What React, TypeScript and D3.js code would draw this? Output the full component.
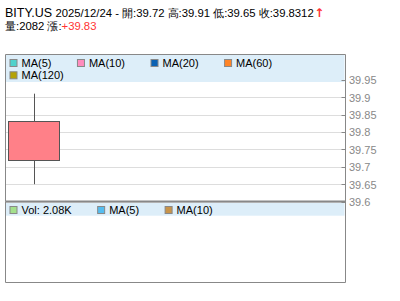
import React, { useEffect, useRef } from "react";
import * as d3 from "d3";

const symbol = "BITY.US";
const dates = ["2025/12/24"];
const opens = [39.72];
const highs = [39.91];
const lows = [39.65];
const closes = [39.8312];
const volumes = [2082];
const changeLabel = "+39.83";
const yTicks = [39.6, 39.65, 39.7, 39.75, 39.8, 39.85, 39.9, 39.95];
const mainLegend = ["MA(5)", "MA(10)", "MA(20)", "MA(60)", "MA(120)"];
const mainLegendColors = ["#4fd2cc", "#ff8cbe", "#0a62b4", "#ff8426", "#b4a204"];
const volLegend = ["Vol: 2.08K", "MA(5)", "MA(10)"];
const volLegendColors = ["#a3e08c", "#55bdf0", "#c8944a"];

const FONT = "'Liberation Sans', Arial, sans-serif";

export default function App() {
  const ref = useRef<SVGSVGElement | null>(null);

  useEffect(() => {
    const svg = d3.select(ref.current);
    svg.selectAll("*").remove();
    const left = 5.5, right = 345.5, top = 54.5, mainBottom = 201.5, volBottom = 282.5;

    const y = d3.scaleLinear().domain([39.6, 40.024]).range([201.6, 54]);
    const x = d3.scaleBand<string>()
      .domain(dates)
      .range([left, left + (right - left) / 6])
      .paddingInner(0.1)
      .paddingOuter(0.05);

    // title
    const t1 = svg.append("text").attr("x", 5).attr("y", 17).attr("font-family", FONT).attr("fill", "#000");
    t1.append("tspan").attr("font-size", 12.5).text(symbol + " ");
    t1.append("tspan").attr("font-size", 11.3)
      .text(`${dates[0]} - 開:${opens[0]} 高:${highs[0]} 低:${lows[0]} 收:${closes[0]}`);
    t1.append("tspan").attr("font-family", "'DejaVu Sans', sans-serif").attr("font-size", 12)
      .attr("font-weight", "bold").attr("fill", "#ff3333").attr("dx", 0.5).text("↑");
    const t2 = svg.append("text").attr("x", 5).attr("y", 30).attr("font-family", FONT).attr("font-size", 11.3).attr("fill", "#000");
    t2.append("tspan").text(`量:${volumes[0]} 漲:`);
    t2.append("tspan").attr("fill", "#ff3333").text(changeLabel);

    // gridlines
    svg.append("g").selectAll("line").data(yTicks).join("line")
      .attr("x1", left).attr("x2", right)
      .attr("y1", d => Math.round(y(d)) + 0.5).attr("y2", d => Math.round(y(d)) + 0.5)
      .attr("stroke", "#dddddd");

    // legend backgrounds
    svg.append("rect").attr("x", left + 0.5).attr("y", top + 0.5).attr("width", right - left - 1.5).attr("height", 27)
      .attr("fill", "#ddeef9");
    svg.append("rect").attr("x", left + 0.5).attr("y", 203).attr("width", right - left - 1.5).attr("height", 12.7)
      .attr("fill", "#ddeef9");

    const drawLegend = (items: string[], colors: string[], sqTop: number, baseline: number) => {
      let cx = 9.5, row = 0;
      const rowH = 12.3;
      items.forEach((label, i) => {
        const tmp = svg.append("text").attr("font-family", FONT).attr("font-size", 11).text(label);
        const w = (tmp.node() as SVGTextElement).getComputedTextLength();
        tmp.remove();
        if (cx + 12 + w > right - 2) { row++; cx = 9.5; }
        const oy = row * rowH;
        svg.append("rect").attr("x", cx + 0.5).attr("y", sqTop + oy + 0.5).attr("width", 7).attr("height", 7)
          .attr("fill", colors[i]).attr("stroke", "#888");
        svg.append("text").attr("x", cx + 12).attr("y", baseline + oy)
          .attr("font-family", FONT).attr("font-size", 11).attr("fill", "#000").text(label);
        cx = cx + 12 + w + 25.5;
      });
    };
    drawLegend(mainLegend, mainLegendColors, 59, 67);
    drawLegend(volLegend, volLegendColors, 206, 214);

    // ticks + labels
    svg.append("g").selectAll("line").data(yTicks).join("line")
      .attr("x1", right - 4).attr("x2", right)
      .attr("y1", d => Math.round(y(d)) + 0.5).attr("y2", d => Math.round(y(d)) + 0.5)
      .attr("stroke", "#888");
    svg.append("g").selectAll("text").data(yTicks).join("text")
      .attr("x", right + 3.5).attr("y", d => y(d) + 4.5)
      .attr("font-family", FONT).attr("font-size", 11).attr("fill", "#888")
      .text(d => String(d));

    // candles
    const g = svg.append("g");
    dates.forEach((d, i) => {
      const cxm = (x(d) as number) + x.bandwidth() / 2;
      g.append("line").attr("x1", Math.round(cxm) + 0.5).attr("x2", Math.round(cxm) + 0.5)
        .attr("y1", y(highs[i])).attr("y2", y(lows[i])).attr("stroke", "#555");
      const yTop = y(Math.max(opens[i], closes[i]));
      const yBot = y(Math.min(opens[i], closes[i]));
      g.append("rect").attr("x", Math.round(x(d) as number) + 0.5).attr("y", Math.round(yTop) + 0.5)
        .attr("width", Math.round(x.bandwidth())).attr("height", Math.round(yBot - yTop))
        .attr("fill", closes[i] >= opens[i] ? "#ff8088" : "#66cc66").attr("stroke", "#555");
    });

    // frames
    svg.append("path")
      .attr("d", `M${left},${mainBottom}V${top}H${right}V${volBottom}H${left}V${mainBottom}`)
      .attr("fill", "none").attr("stroke", "#888");
    svg.append("line").attr("x1", left).attr("x2", right).attr("y1", 201.5).attr("y2", 201.5)
      .attr("stroke", "#888").attr("stroke-width", 2);
  }, []);

  return (
    <svg ref={ref} width={400} height={301}
      style={{ position: "absolute", left: 0, top: 0, background: "#fff" }} />
  );
}
